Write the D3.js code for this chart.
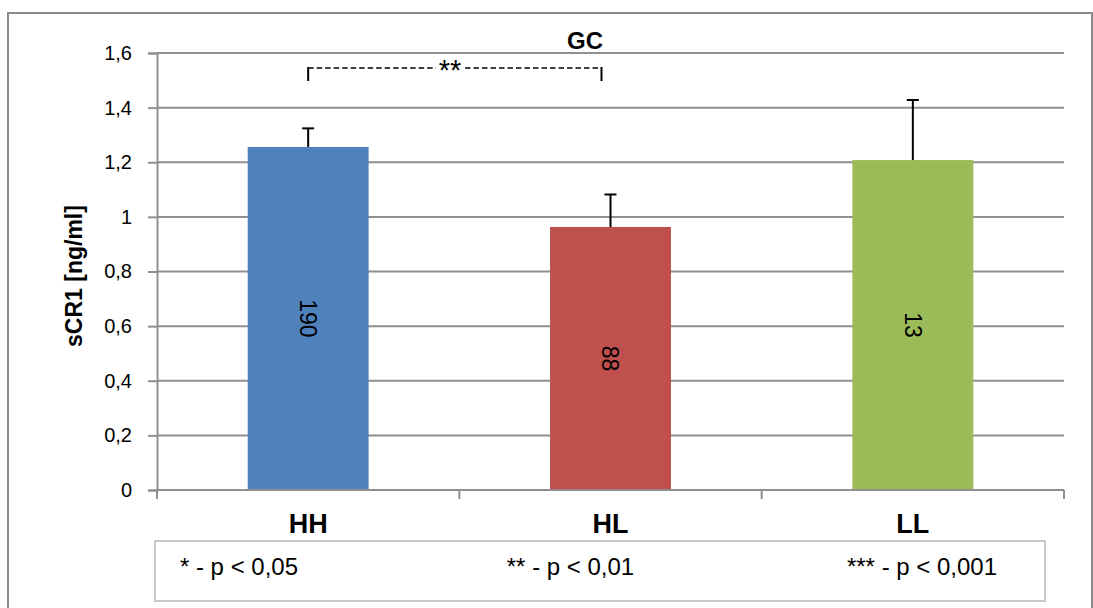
<!DOCTYPE html>
<html>
<head>
<meta charset="utf-8">
<script src="https://cdn.jsdelivr.net/npm/d3@7"></script>
<style>
  html, body { margin: 0; padding: 0; background: #fff; }
  svg { display: block; font-family: "Liberation Sans", Arial, sans-serif; }
</style>
</head>
<body>
<svg id="chart" width="1093" height="608"></svg>
<script>
// Groups, mean sCR1 levels, upper error bars and group sizes
const categories = ["HH", "HL", "LL"];
const means = [1.256, 0.963, 1.208];
const errorTops = [1.324, 1.082, 1.428];
const counts = ["190", "88", "13"];
const barColors = ["#4F81BD", "#C0504D", "#9BBB59"];
const yTicks = [0, 0.2, 0.4, 0.6, 0.8, 1, 1.2, 1.4, 1.6];
const yTickLabels = ["0", "0,2", "0,4", "0,6", "0,8", "1", "1,2", "1,4", "1,6"];
const legendItems = ["* - p < 0,05", "** - p < 0,01", "*** - p < 0,001"];
const title = "GC";
const yTitle = "sCR1 [ng/ml]";
const significance = { from: "HH", to: "HL", label: "**" };

const svg = d3.select("#chart");
const gridColor = "#8f8f8f";

// frame around the chart
svg.append("rect")
  .attr("x", 8).attr("y", 13).attr("width", 1084).attr("height", 610)
  .attr("fill", "none").attr("stroke", "#8a8a8a").attr("stroke-width", 2);

const plot = { left: 157, right: 1064, top: 53, bottom: 490 };

const x = d3.scaleBand().domain(categories)
  .range([plot.left, plot.right]).paddingInner(0.6).paddingOuter(0.3);
const xEdges = d3.scaleLinear().domain([0, categories.length]).range([plot.left, plot.right]);
const y = d3.scaleLinear().domain([0, 1.6]).range([plot.bottom, plot.top]);

// horizontal grid lines
svg.append("g").selectAll("line").data(yTicks.filter(d => d > 0)).join("line")
  .attr("x1", plot.left).attr("x2", plot.right)
  .attr("y1", d => y(d)).attr("y2", d => y(d))
  .attr("stroke", gridColor).attr("stroke-width", 2);

// y axis
const yAxis = svg.append("g").attr("transform", `translate(${plot.left},0)`)
  .call(d3.axisLeft(y).tickValues(yTicks).tickFormat((d, i) => yTickLabels[i]).tickSize(9).tickPadding(16));
yAxis.select(".domain").attr("stroke", gridColor).attr("stroke-width", 2);
yAxis.selectAll(".tick line").attr("stroke", gridColor).attr("stroke-width", 2);
yAxis.selectAll(".tick text").attr("font-size", 20).attr("fill", "#000")
  .attr("font-family", "Liberation Sans, Arial, sans-serif");

// bars
svg.append("g").selectAll("rect").data(categories).join("rect")
  .attr("x", d => x(d)).attr("width", x.bandwidth())
  .attr("y", (d, i) => y(means[i])).attr("height", (d, i) => y(0) - y(means[i]))
  .attr("fill", (d, i) => barColors[i]);

// x axis with category-boundary ticks
svg.append("line")
  .attr("x1", plot.left).attr("x2", plot.right)
  .attr("y1", y(0)).attr("y2", y(0))
  .attr("stroke", gridColor).attr("stroke-width", 2);
svg.append("g").selectAll("line").data(d3.range(categories.length + 1)).join("line")
  .attr("x1", d => xEdges(d)).attr("x2", d => xEdges(d))
  .attr("y1", y(0)).attr("y2", y(0) + 9)
  .attr("stroke", gridColor).attr("stroke-width", 2);

// category labels
svg.append("g").selectAll("text").data(categories).join("text")
  .attr("x", d => x(d) + x.bandwidth() / 2).attr("y", 533)
  .attr("text-anchor", "middle").attr("font-size", 27).attr("font-weight", "bold")
  .text(d => d);

// error bars (upper only)
const err = svg.append("g").attr("stroke", "#000").attr("stroke-width", 2);
categories.forEach((c, i) => {
  const cx = x(c) + x.bandwidth() / 2;
  err.append("line").attr("x1", cx).attr("x2", cx)
    .attr("y1", y(means[i])).attr("y2", y(errorTops[i]));
  err.append("line").attr("x1", cx - 6).attr("x2", cx + 6)
    .attr("y1", y(errorTops[i])).attr("y2", y(errorTops[i]));
});

// group sizes, rotated inside each bar
svg.append("g").selectAll("text").data(categories).join("text")
  .attr("transform", (d, i) => `translate(${x(d) + x.bandwidth() / 2},${(y(means[i]) + y(0)) / 2}) rotate(90)`)
  .attr("text-anchor", "middle").attr("dy", "0.35em")
  .attr("font-size", 23).attr("fill", "#000")
  .text((d, i) => counts[i]);

// significance bracket between HH and HL
const bx1 = x(significance.from) + x.bandwidth() / 2;
const bx2 = x(significance.to) + x.bandwidth() / 2 - 9;
const by = 68;
const starX = 450;
const br = svg.append("g").attr("stroke", "#000").attr("stroke-width", 1.5).attr("fill", "none");
br.append("line").attr("x1", bx1).attr("x2", bx1).attr("y1", by - 1).attr("y2", 81).attr("stroke-width", 2);
br.append("line").attr("x1", bx2).attr("x2", bx2).attr("y1", by - 1).attr("y2", 81).attr("stroke-width", 2);
br.append("line").attr("x1", bx1).attr("x2", starX - 14).attr("y1", by).attr("y2", by)
  .attr("stroke-dasharray", "5.5,3");
br.append("line").attr("x1", starX + 15).attr("x2", bx2).attr("y1", by).attr("y2", by)
  .attr("stroke-dasharray", "5.5,3");
svg.append("text").attr("x", starX).attr("y", 80)
  .attr("text-anchor", "middle").attr("font-size", 29).text(significance.label);

// title
svg.append("text").attr("x", 585).attr("y", 49)
  .attr("text-anchor", "middle").attr("font-size", 24).attr("font-weight", "bold")
  .text(title);

// y axis title
svg.append("text")
  .attr("transform", "translate(82,276) rotate(-90)")
  .attr("text-anchor", "middle").attr("font-size", 23).attr("font-weight", "bold")
  .text(yTitle);

// p-value key box
svg.append("rect")
  .attr("x", 155).attr("y", 541).attr("width", 890).attr("height", 60)
  .attr("fill", "#fff").attr("stroke", "#c8c8c8").attr("stroke-width", 2);
const legendCenters = [239, 570.5, 922];
svg.append("g").selectAll("text").data(legendItems).join("text")
  .attr("x", (d, i) => legendCenters[i]).attr("y", 575)
  .attr("text-anchor", "middle").attr("font-size", 24)
  .text(d => d);
</script>
</body>
</html>
